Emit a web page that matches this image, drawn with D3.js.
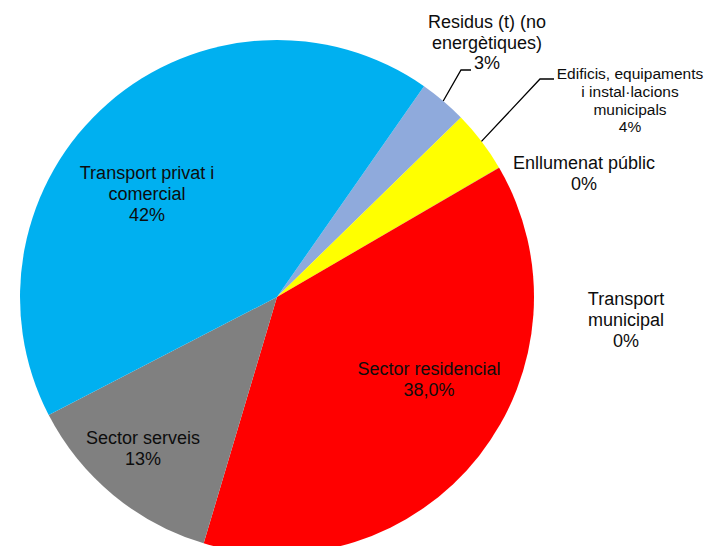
<!DOCTYPE html>
<html><head><meta charset="utf-8">
<script src="https://cdn.jsdelivr.net/npm/d3@7"></script>
<style>html,body{margin:0;padding:0;background:#fff;overflow:hidden}</style>
</head><body>
<svg id="chart" width="708" height="546"></svg>
<script>
// Data
const categories = [
  "Residus (t) (no energètiques)",
  "Edificis, equipaments i instal·lacions municipals",
  "Enllumenat públic",
  "Transport municipal",
  "Sector residencial",
  "Sector serveis",
  "Transport privat i comercial"
];
const values = [3.0, 3.9, 0.01, 0.01, 38.0, 12.8, 42.3];
const percentLabels = ["3%", "4%", "0%", "0%", "38,0%", "13%", "42%"];
const labelLines = [
  ["Residus (t) (no", "energètiques)"],
  ["Edificis, equipaments", "i instal·lacions", "municipals"],
  ["Enllumenat públic"],
  ["Transport", "municipal"],
  ["Sector residencial"],
  ["Sector serveis"],
  ["Transport privat i", "comercial"]
];
const colors = ["#8FAADC", "#FFFF00", "#FFC000", "#70AD47", "#FF0000", "#808080", "#00B0F0"];

// Layout (label anchor: center x, first baseline y, font size, line height)
const labelLayout = [
  {x: 487, y: 28, fs: 18, lh: 20.5},
  {x: 630, y: 79, fs: 15.5, lh: 17.8},
  {x: 584, y: 169, fs: 18, lh: 20.5},
  {x: 626, y: 305, fs: 18, lh: 20.8},
  {x: 429, y: 375, fs: 18, lh: 20.5},
  {x: 143, y: 444, fs: 18, lh: 21},
  {x: 147, y: 179, fs: 18, lh: 21}
];
const leaders = [
  {i: 0, pts: [[471, 70], [461, 70]], r: 1.0},
  {i: 1, pts: [[554, 79], [540, 79]], r: 1.0}
];

const svg = d3.select("#chart");
const cx = 277, cy = 297, R = 257;
const startDeg = 34.9;

const pie = d3.pie().sort(null).value(d => d)
  .startAngle(startDeg * Math.PI / 180)
  .endAngle((startDeg + 360) * Math.PI / 180);
const arcs = pie(values);
const arc = d3.arc().innerRadius(0).outerRadius(R);

const g = svg.append("g").attr("transform", `translate(${cx},${cy})`);
g.selectAll("path").data(arcs).join("path")
  .attr("d", arc)
  .attr("fill", (d, i) => colors[i]);

// leader lines
leaders.forEach(L => {
  const a = arcs[L.i];
  const mid = (a.startAngle + a.endAngle) / 2;
  const ex = cx + Math.sin(mid) * R * L.r;
  const ey = cy - Math.cos(mid) * R * L.r;
  const pts = L.pts.concat([[ex, ey]]);
  svg.append("path")
    .attr("d", d3.line()(pts))
    .attr("fill", "none")
    .attr("stroke", "#000")
    .attr("stroke-width", 1.3);
});

// labels
labelLayout.forEach((L, i) => {
  const lines = labelLines[i].concat([percentLabels[i]]);
  const t = svg.append("text")
    .attr("text-anchor", "middle")
    .attr("font-family", "Liberation Sans, Arial, sans-serif")
    .attr("font-size", L.fs)
    .attr("fill", "#0d0d0d");
  lines.forEach((s, k) => {
    t.append("tspan").attr("x", L.x).attr("y", L.y + k * L.lh).text(s);
  });
});
</script>
</body></html>
